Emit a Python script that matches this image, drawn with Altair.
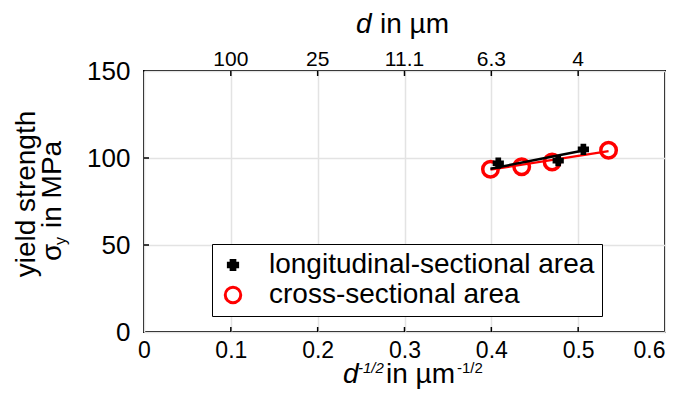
import altair as alt
import pandas as pd

# ---------------- data ----------------
series_names = ["longitudinal-sectional area", "cross-sectional area"]
long_x = [0.408, 0.477, 0.506]
long_y = [97.0, 98.5, 105.0]
cross_x = [0.399, 0.435, 0.470, 0.535]
cross_y = [93.5, 95.0, 97.7, 104.5]
fit_long_x = [0.399, 0.506]
fit_long_y = [93.8, 104.3]
fit_cross_x = [0.399, 0.535]
fit_cross_y = [93.3, 104.0]
x_ticks = [0, 0.1, 0.2, 0.3, 0.4, 0.5, 0.6]
y_ticks = [0, 50, 100, 150]
inner_x_ticks = [0.1, 0.2, 0.3, 0.4, 0.5]
inner_y_ticks = [50, 100]
top_pos = [0.1, 0.2, 0.3, 0.4, 0.5]
top_labels = ["100", "25", "11.1", "6.3", "4"]

W, H = 521, 261
FONT = "Liberation Sans"
TF = 28  # title font size

pts = pd.DataFrame({
    "x": long_x + cross_x,
    "y": long_y + cross_y,
    "series": [series_names[0]] * len(long_x) + [series_names[1]] * len(cross_x),
})
fit_long = pd.DataFrame({"x": fit_long_x, "y": fit_long_y})
fit_cross = pd.DataFrame({"x": fit_cross_x, "y": fit_cross_y})
top_df = pd.DataFrame({"x": top_pos, "label": top_labels})
xt_df = pd.DataFrame({"x": inner_x_ticks})
yt_df = pd.DataFrame({"y": inner_y_ticks})

x_scale = alt.Scale(domain=[0, 0.6], nice=False, zero=False)
y_scale = alt.Scale(domain=[0, 150], nice=False, zero=False)

x_enc = alt.X("x:Q", scale=x_scale, axis=alt.Axis(
    values=x_ticks, format="~g", title=None, labelFontSize=23, labelFont=FONT,
    labelColor="black", labelPadding=7, ticks=False, domain=False, grid=True,
    gridColor="#e3e3e3", gridWidth=1.5, labelFlush=False, labelOverlap=False,
    labelAlign={"condition": {"test": "datum.value >= 0.59", "value": "right"}, "value": "center"}))
y_enc = alt.Y("y:Q", scale=y_scale, axis=alt.Axis(
    values=y_ticks, title=None, labelFontSize=26, labelFont=FONT,
    labelColor="black", labelPadding=14, ticks=False, domain=False, grid=True,
    gridColor="#e3e3e3", gridWidth=1.5))

dom = series_names
point_enc = dict(
    x=x_enc, y=y_enc,
    shape=alt.Shape("series:N", title=None, scale=alt.Scale(domain=dom, range=["cross", "circle"])),
    fill=alt.Fill("series:N", title=None, scale=alt.Scale(domain=dom, range=["black", "transparent"])),
    stroke=alt.Stroke("series:N", title=None, scale=alt.Scale(domain=dom, range=["black", "red"])),
    size=alt.Size("series:N", title=None, scale=alt.Scale(domain=dom, range=[85, 240])),
)

cross_pts = alt.Chart(pts).transform_filter(
    alt.datum.series == series_names[1]
).mark_point(strokeWidth=3.5, opacity=1).encode(**point_enc)
long_pts = alt.Chart(pts).transform_filter(
    alt.datum.series == series_names[0]
).mark_point(strokeWidth=2, opacity=1).encode(**point_enc)

red_line = alt.Chart(fit_cross).mark_line(color="red", strokeWidth=2.2).encode(x=x_enc, y=y_enc)
black_line = alt.Chart(fit_long).mark_line(color="black", strokeWidth=2.5).encode(x=x_enc, y=y_enc)

tick_bottom = alt.Chart(xt_df).mark_rule(color="black", strokeWidth=1.5).encode(
    x=x_enc, y=alt.value(H), y2=alt.value(H - 5))
tick_top = alt.Chart(xt_df).mark_rule(color="black", strokeWidth=1.5).encode(
    x=x_enc, y=alt.value(0), y2=alt.value(5))
tick_left = alt.Chart(yt_df).mark_rule(color="black", strokeWidth=1.5).encode(
    y=y_enc, x=alt.value(0), x2=alt.value(5))

top_text = alt.Chart(top_df).mark_text(
    font=FONT, fontSize=21, baseline="alphabetic", color="black"
).encode(x=x_enc, y=alt.value(-5), text="label:N")


def txt(s, x, y, size=TF, style="normal", align="left", angle=0, baseline="alphabetic"):
    return alt.Chart(pd.DataFrame({"t": [s]})).mark_text(
        font=FONT, fontSize=size, fontStyle=style, align=align, angle=angle,
        baseline=baseline, color="black"
    ).encode(x=alt.value(x), y=alt.value(y), text="t:N")


titles = [
    # top axis title: d in µm
    txt("d", 212, -38, style="italic"),
    txt("in µm", 236, -38),
    # bottom axis title: d^-1/2 in µm^-1/2
    txt("d", 199, 312, style="italic"),
    txt("-1/2", 214, 302, size=15, style="italic"),
    txt("in µm", 242, 312),
    txt("-1/2", 313, 302, size=15),
    # y title line 1
    txt("yield strength", -117, 123, align="center", angle=270, baseline="middle"),
    # y title line 2: σy in MPa
    txt("σ", -91, 190, align="left", angle=270, baseline="middle"),
    txt("y", -83, 174, size=16, align="left", angle=270, baseline="middle"),
    txt("in MPa", -91, 157, align="left", angle=270, baseline="middle"),
]

chart = alt.layer(
    cross_pts, red_line, black_line, long_pts,
    tick_bottom, tick_top, tick_left, top_text, *titles
).properties(
    width=W, height=H,
    autosize=alt.AutoSizeParams(type="none"),
    padding={"left": 136, "top": 63, "right": 1, "bottom": 58},
).configure_view(
    stroke="black", strokeWidth=2
).configure_legend(
    orient="none", legendX=68, legendY=173, strokeColor="black", fillColor="white",
    padding=7, labelFontSize=28, labelFont=FONT, labelColor="black", labelLimit=500,
    symbolStrokeWidth=3, labelOffset=22, rowPadding=2, symbolOpacity=1,
    cornerRadius=0, titleFontSize=0,
)

chart.save("out.html", embed_options={"renderer": "svg", "actions": False})
